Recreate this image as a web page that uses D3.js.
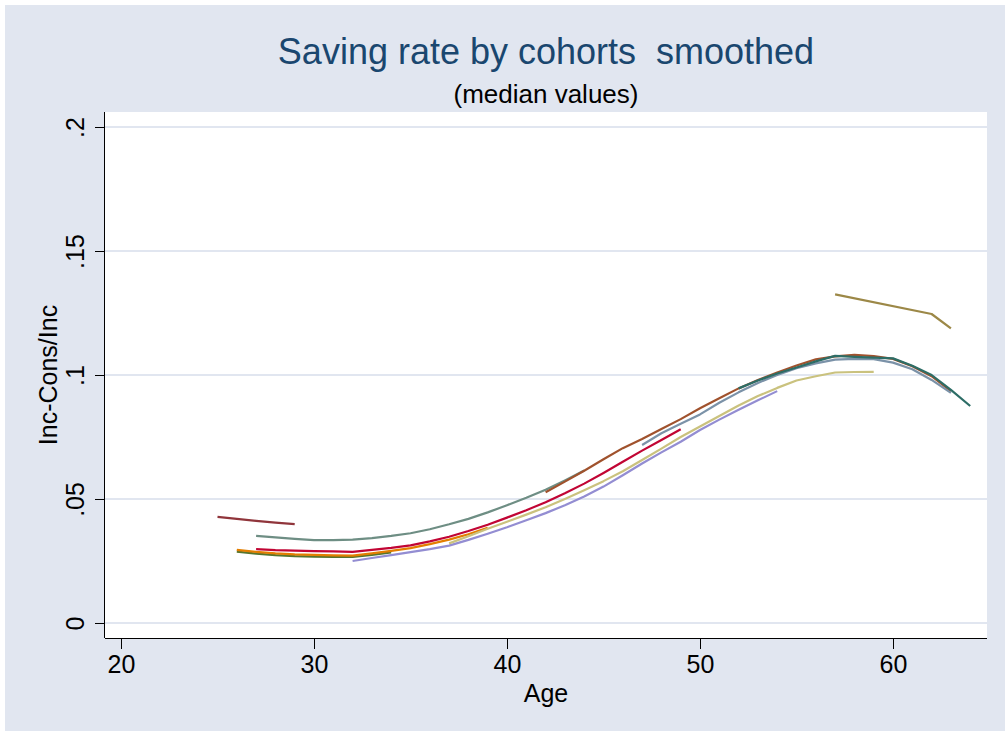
<!DOCTYPE html>
<html>
<head>
<meta charset="utf-8">
<script src="https://cdn.jsdelivr.net/npm/d3@7"></script>
<style>
  body { margin: 0; background: #ffffff; }
  svg text { font-family: "Liberation Sans", Arial, Helvetica, sans-serif; }
</style>
</head>
<body>
<div id="chart"></div>
<script>
// Chart values
var titleText = 'Saving rate by cohorts  smoothed';
var subtitleText = '(median values)';
var xTicks = [20, 30, 40, 50, 60];
var yTicks = [0, 0.05, 0.1, 0.15, 0.2];
var yTickLabels = ['0', '.05', '.1', '.15', '.2'];

// one array of ages and one of median saving rates per cohort
var ages1 = d3.range(25, 30);
var rate1 = [.0428, .0420, .0412, .0405, .0399];
var ages2 = d3.range(26, 35);
var rate2 = [.0288, .0280, .0274, .0270, .0268, .0267, .0267, .0275, .0285];
var ages3 = d3.range(26, 40);
var rate3 = [.0295, .0287, .0281, .0277, .0275, .0273, .0272, .0281, .0291, .0302, .0318, .0336, .0358, .0384];
var ages4 = d3.range(27, 45);
var rate4 = [.0351, .0345, .0339, .0334, .0334, .0336, .0342, .0351, .0362, .0378, .0398, .0420, .0446, .0475, .0505, .0537, .0575, .0615];
var ages5 = d3.range(27, 50);
var rate5 = [.0298, .0294, .0292, .0290, .0289, .0287, .0295, .0303, .0313, .0329, .0348, .0371, .0396, .0425, .0455, .0487, .0523, .0562, .0605, .0650, .0695, .0738, .0781];
var ages6 = d3.range(32, 55);
var rate6 = [.0250, .0262, .0274, .0286, .0298, .0312, .0335, .0360, .0386, .0414, .0443, .0475, .0510, .0550, .0596, .0643, .0688, .0731, .0778, .0820, .0860, .0898, .0935];
var ages7 = d3.range(37, 60);
var rate7 = [.0321, .0350, .0380, .0408, .0437, .0467, .0500, .0535, .0572, .0612, .0657, .0703, .0750, .0792, .0835, .0877, .0915, .0948, .0978, .0995, .1010, .1012, .1013];
var ages8 = d3.range(42, 64);
var rate8 = [.0527, .0570, .0614, .0660, .0705, .0742, .0782, .0822, .0866, .0906, .0946, .0980, .1010, .1038, .1063, .1075, .1081, .1076, .1065, .1035, .0995, .0935];
var ages9 = d3.range(47, 64);
var rate9 = [.0718, .0765, .0803, .0841, .0888, .0930, .0968, .1000, .1027, .1047, .1062, .1065, .1064, .1050, .1023, .0980, .0928];
var ages10 = d3.range(52, 65);
var rate10 = [.0946, .0978, .1006, .1030, .1055, .1077, .1073, .1070, .1067, .1037, .1000, .0940, .0875];
var ages11 = [57, 62, 63];
var rate11 = [.1325, .1246, .1188];

var allAges = [ages1, ages2, ages3, ages4, ages5, ages6, ages7, ages8, ages9, ages10, ages11];
var allRates = [rate1, rate2, rate3, rate4, rate5, rate6, rate7, rate8, rate9, rate10, rate11];

// Stata s2color palette, skipping navy
var colors = ['#90353B', '#55752F', '#E37E00', '#6E8E84', '#C10534', '#938DD2',
              '#CAC27E', '#A0522D', '#7B92A8', '#2D6D66', '#9C8847'];

var W = 1005, H = 734;
var plot = {left: 105, top: 112, right: 987, bottom: 638};

var svg = d3.select('#chart')
  .append('svg')
    .attr('width', W)
    .attr('height', H);

// graph region background
svg.append('rect')
  .attr('x', 5).attr('y', 5)
  .attr('width', W - 5).attr('height', H - 8)
  .attr('fill', '#E1E6F0');

// plot region
svg.append('rect')
  .attr('x', plot.left).attr('y', plot.top)
  .attr('width', plot.right - plot.left).attr('height', plot.bottom - plot.top)
  .attr('fill', '#ffffff');

var x_scale = d3.scaleLinear()
  .domain([19.171, 64.87])
  .range([plot.left, plot.right]);
var y_scale = d3.scaleLinear()
  .domain([-0.00605, 0.20605])
  .range([plot.bottom, plot.top]);

// gridlines
svg.append('g')
  .selectAll('line')
  .data(yTicks)
  .enter()
  .append('line')
    .attr('x1', plot.left).attr('x2', plot.right)
    .attr('y1', function(d) { return y_scale(d); })
    .attr('y2', function(d) { return y_scale(d); })
    .attr('stroke', '#E1E6F0')
    .attr('stroke-width', 2);

// cohort lines
var line = d3.line()
  .x(function(d) { return x_scale(d[0]); })
  .y(function(d) { return y_scale(d[1]); });

svg.append('g')
  .selectAll('path')
  .data(allAges.map(function(a, i) {
    return a.map(function(age, j) { return [age, allRates[i][j]]; });
  }))
  .enter()
  .append('path')
    .attr('d', line)
    .attr('fill', 'none')
    .attr('stroke', function(d, i) { return colors[i]; })
    .attr('stroke-width', 2.2)
    .attr('stroke-linejoin', 'round');

// X axis
var x_axis = d3.axisBottom(x_scale)
  .tickValues(xTicks)
  .tickSize(11)
  .tickPadding(6)
  .tickFormat(d3.format('d'));
var gx = svg.append('g')
  .attr('transform', 'translate(0,' + plot.bottom + ')')
  .call(x_axis);
gx.select('.domain').attr('d', 'M' + plot.left + ',0.5H' + plot.right).attr('stroke', '#000');
gx.selectAll('.tick line').attr('stroke', '#000');
gx.selectAll('.tick text')
  .attr('font-size', 25)
  .attr('fill', '#000')
  .attr('font-family', '"Liberation Sans", Arial, sans-serif');

// Y axis
var y_axis = d3.axisLeft(y_scale)
  .tickValues(yTicks)
  .tickSize(10)
  .tickFormat(function(d, i) { return yTickLabels[i]; });
var gy = svg.append('g')
  .attr('transform', 'translate(' + plot.left + ',0)')
  .call(y_axis);
gy.select('.domain').attr('d', 'M-0.5,' + plot.top + 'V' + plot.bottom).attr('stroke', '#000');
gy.selectAll('.tick line').attr('stroke', '#000');
gy.selectAll('.tick text')
  .attr('font-size', 25)
  .attr('fill', '#000')
  .attr('font-family', '"Liberation Sans", Arial, sans-serif')
  .attr('text-anchor', 'middle')
  .attr('x', null)
  .attr('dy', null)
  .attr('transform', 'translate(-21,0) rotate(-90)');

// axis titles
svg.append('text')
  .attr('x', (plot.left + plot.right) / 2)
  .attr('y', 702)
  .attr('text-anchor', 'middle')
  .attr('font-size', 25)
  .text('Age');

svg.append('text')
  .attr('transform', 'translate(57,' + y_scale(0.1) + ') rotate(-90)')
  .attr('text-anchor', 'middle')
  .attr('font-size', 25)
  .text('Inc-Cons/Inc');

// titles
svg.append('text')
  .attr('x', (plot.left + plot.right) / 2)
  .attr('y', 64)
  .attr('text-anchor', 'middle')
  .attr('font-size', 36)
  .attr('fill', '#1A476F')
  .style('white-space', 'pre')
  .text(titleText);

svg.append('text')
  .attr('x', (plot.left + plot.right) / 2)
  .attr('y', 103)
  .attr('text-anchor', 'middle')
  .attr('font-size', 26)
  .attr('fill', '#000')
  .text(subtitleText);
</script>
</body>
</html>
